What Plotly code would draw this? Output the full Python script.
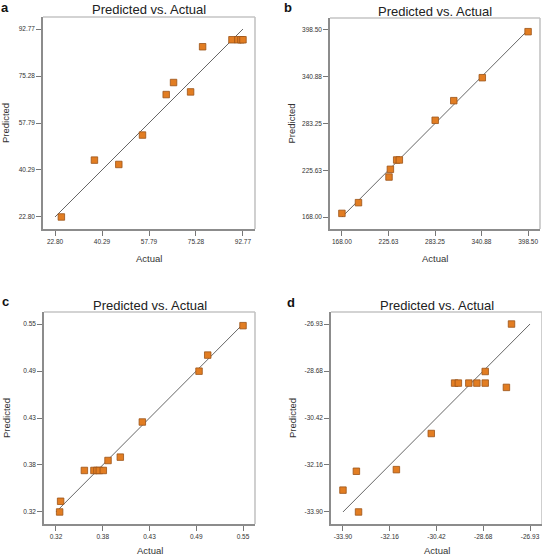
import numpy as np
import plotly.graph_objects as go

# ---------------- data ----------------
panel_letters = ["a", "b", "c", "d"]
title_text = "Predicted vs. Actual"

a_actual = [25.16, 37.47, 46.54, 55.36, 64.19, 66.93, 73.27, 77.74, 88.67, 90.91, 92.03, 92.77]
a_pred = [22.80, 43.97, 42.35, 53.30, 68.37, 72.85, 69.36, 86.17, 88.78, 88.78, 88.78, 88.78]
a_ticks = ["22.80", "40.29", "57.79", "75.28", "92.77"]

b_actual = [168.0, 188.5, 226.3, 228.0, 235.8, 239.1, 283.5, 306.5, 341.8, 398.5]
b_pred = [172.5, 185.7, 217.3, 226.8, 238.3, 238.3, 287.2, 311.4, 339.7, 396.4]
b_ticks = ["168.00", "225.63", "283.25", "340.88", "398.50"]

c_actual = [0.3245, 0.3257, 0.3549, 0.3667, 0.3704, 0.3733, 0.3782, 0.3840, 0.3991, 0.4262, 0.4959, 0.5066, 0.55]
c_pred = [0.320, 0.3331, 0.3708, 0.3708, 0.3708, 0.3708, 0.3708, 0.3830, 0.3871, 0.4301, 0.4923, 0.5120, 0.548]
c_ticks = ["0.32", "0.38", "0.43", "0.49", "0.55"]

d_actual = [-33.90, -33.40, -33.32, -31.91, -30.61, -29.74, -29.60, -29.21, -28.91, -28.60, -28.60, -27.81, -27.62]
d_pred = [-33.09, -32.39, -33.90, -32.33, -30.99, -29.12, -29.12, -29.12, -29.12, -29.12, -28.69, -29.28, -26.93]
d_ticks = ["-33.90", "-32.16", "-30.42", "-28.68", "-26.93"]

a_lim = [22.80, 92.77]
b_lim = [168.00, 398.50]
c_lim = [0.32, 0.55]
d_lim = [-33.90, -26.93]

panels = [
    (a_actual, a_pred, a_ticks, a_lim),
    (b_actual, b_pred, b_ticks, b_lim),
    (c_actual, c_pred, c_ticks, c_lim),
    (d_actual, d_pred, d_ticks, d_lim),
]

# ---------------- layout geometry (pixels) ----------------
W, H = 542, 557
boxes = [  # x0, x1, y0(top), y1(bottom)
    (43, 255, 17, 229),
    (330, 540, 18, 229),
    (44, 255, 312, 524),
    (331, 542, 312, 524),
]
letter_pos = [(5, 8), (288, 7), (5, 301), (291, 302)]
PAD = 0.064

FONT = "Liberation Sans, Arial, Helvetica, sans-serif"
MARK_FILL = "#E27D22"
MARK_LINE = "#9A5318"

fig = go.Figure()
layout = dict(
    width=W, height=H, margin=dict(l=0, r=0, t=0, b=0, autoexpand=False),
    autosize=False,
    paper_bgcolor="white", plot_bgcolor="white",
    showlegend=False, font=dict(family=FONT, color="#222"),
)
annotations = []
shapes = []

for i, ((xs, ys, tlabels, lim), (x0, x1, yt, yb)) in enumerate(zip(panels, boxes)):
    n = i + 1
    xa = "x" if n == 1 else f"x{n}"
    ya = "y" if n == 1 else f"y{n}"
    span = lim[1] - lim[0]
    rng = [lim[0] - PAD * span, lim[1] + PAD * span]
    tv = list(np.linspace(lim[0], lim[1], len(tlabels)))

    fig.add_trace(go.Scatter(
        x=lim, y=lim, mode="lines", xaxis=xa, yaxis=ya,
        line=dict(color="#555555", width=0.9), hoverinfo="skip"))
    fig.add_trace(go.Scatter(
        x=xs, y=ys, mode="markers", xaxis=xa, yaxis=ya,
        marker=dict(symbol="square", size=6.5, color=MARK_FILL,
                    line=dict(color=MARK_LINE, width=0.8))))

    dom_x = [x0 / W, min(x1 / W, 1.0)]
    dom_y = [1 - yb / H, 1 - yt / H]
    axcommon = dict(
        range=rng, tickmode="array", tickvals=tv, ticktext=tlabels,
        ticks="outside", ticklen=5, tickwidth=1, tickcolor="#777777",
        showgrid=False, zeroline=False, showline=True, automargin=False,
        linecolor="#8c8c8c", linewidth=1.5,
        tickfont=dict(size=6.5, color="#333333", family=FONT),
    )
    layout["xaxis" if n == 1 else f"xaxis{n}"] = dict(
        domain=dom_x, anchor=ya, **axcommon)
    layout["yaxis" if n == 1 else f"yaxis{n}"] = dict(
        domain=dom_y, anchor=xa, **axcommon)

    # lighter top & right frame
    shapes.append(dict(type="line", xref="paper", yref="paper",
                       x0=dom_x[0], x1=dom_x[1], y0=dom_y[1], y1=dom_y[1],
                       line=dict(color="#c4c4c4", width=1.6)))
    shapes.append(dict(type="line", xref="paper", yref="paper",
                       x0=dom_x[1], x1=dom_x[1], y0=dom_y[0], y1=dom_y[1],
                       line=dict(color="#c4c4c4", width=1.6)))

    # title
    annotations.append(dict(text=title_text, xref="paper", yref="paper",
                            x=(x0 + x1) / 2 / W, y=1 - (yt - 7) / H,
                            xanchor="center", yanchor="middle", showarrow=False,
                            font=dict(size=13, color="#222", family=FONT)))
    # axis titles
    annotations.append(dict(text="Actual", xref="paper", yref="paper",
                            x=(x0 + x1) / 2 / W, y=1 - min(yb + 29, 550) / H,
                            xanchor="center", yanchor="middle", showarrow=False,
                            font=dict(size=9.5, color="#333", family=FONT)))
    annotations.append(dict(text="Predicted", xref="paper", yref="paper",
                            x=max(x0 - 39, 6) / W, y=1 - (yt + yb) / 2 / H,
                            xanchor="center", yanchor="middle", showarrow=False,
                            textangle=-90,
                            font=dict(size=9.5, color="#333", family=FONT)))
    lx, ly = letter_pos[i]
    annotations.append(dict(text=f"<b>{panel_letters[i]}</b>", xref="paper", yref="paper",
                            x=lx / W, y=1 - ly / H, xanchor="center", yanchor="middle",
                            showarrow=False,
                            font=dict(size=13, color="#111", family=FONT)))

layout["annotations"] = annotations
layout["shapes"] = shapes
fig.update_layout(**layout)
fig.write_html("out.html",
               config={"displayModeBar": False},
               post_script="document.body.style.margin='0';document.body.style.padding='0';")
